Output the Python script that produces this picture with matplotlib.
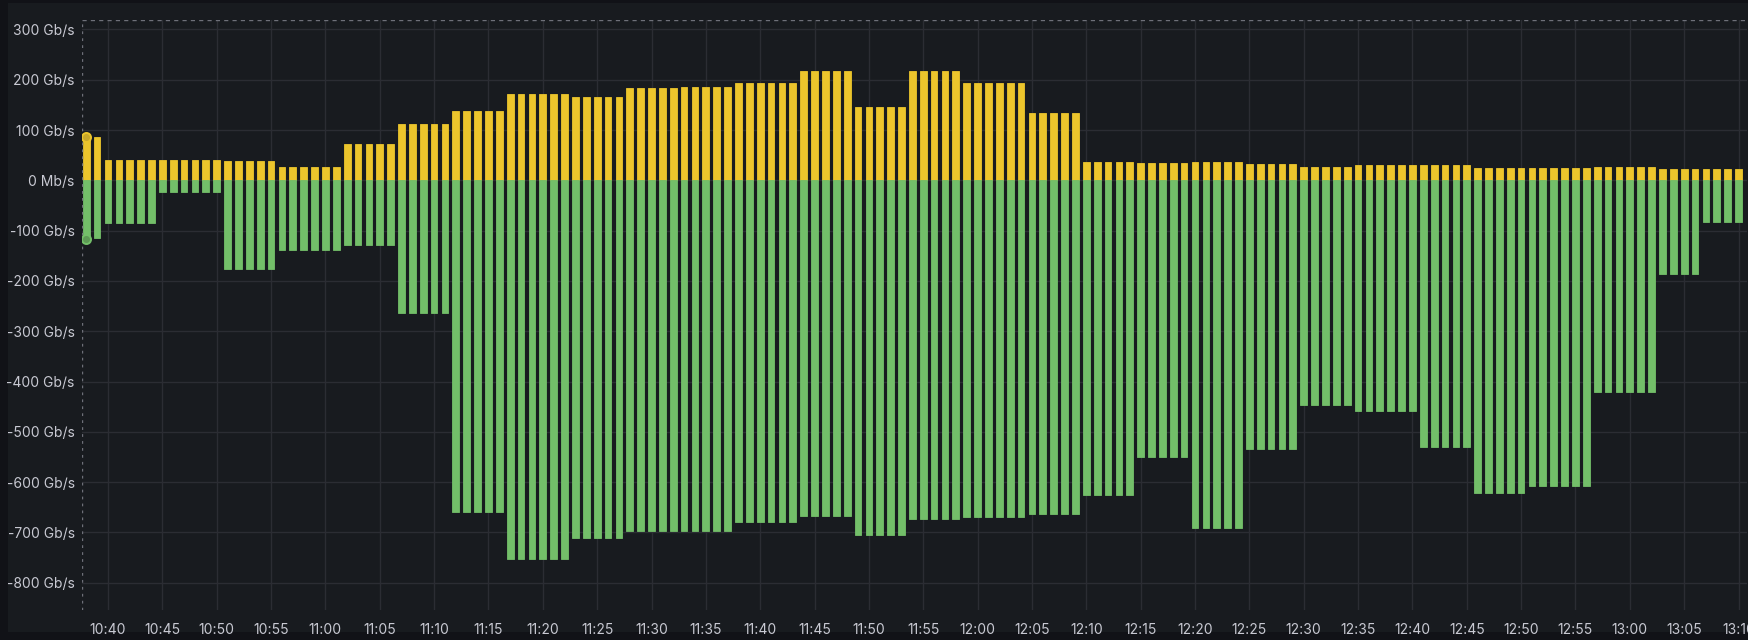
import matplotlib
matplotlib.use("Agg")
import matplotlib.pyplot as plt
import matplotlib.dates as mdates
from matplotlib.ticker import FuncFormatter, FixedLocator
from matplotlib.patches import Rectangle
import pandas as pd

plt.rcParams["font.family"] = ["Inter", "DejaVu Sans"]

# one sample per minute, 10:38 .. 13:10
times = pd.date_range("2024-01-01 10:38", "2024-01-01 13:10", freq="1min")

# inbound traffic (Gb/s), drawn upwards
rx_gbps = [
    86, 86,
    40, 40, 40, 40, 40, 40, 40, 40, 40, 40, 40,
    38, 38, 38, 38, 38,
    27, 27, 27, 27, 27, 27,
    72, 72, 72, 72, 72,
    111, 111, 111, 111, 111,
    138, 138, 138, 138, 138,
    172, 172, 172, 172, 172, 172,
    166, 166, 166, 166, 166,
    184, 184, 184, 184, 184,
    186, 186, 186, 186, 186,
    194, 194, 194, 194, 194, 194,
    217, 217, 217, 217, 217,
    146, 146, 146, 146, 146,
    217, 217, 217, 217, 217,
    194, 194, 194, 194, 194, 194,
    133, 133, 133, 133, 133,
    36, 36, 36, 36, 36,
    34, 34, 34, 34, 34,
    37, 37, 37, 37, 37,
    32, 32, 32, 32, 32,
    27, 27, 27, 27, 27,
    30, 30, 30, 30, 30, 30, 30, 30, 30, 30, 30,
    25, 25, 25, 25, 25, 25, 25, 25, 25, 25, 25,
    27, 27, 27, 27, 27, 27,
    22, 22, 22, 22, 22, 22, 22, 22,
]

# outbound traffic (Gb/s), drawn downwards
tx_gbps = [
    -117, -115,
    -84, -84, -84, -84, -84,
    -24, -24, -24, -24, -24, -24,
    -176, -176, -176, -176, -176,
    -138, -138, -138, -138, -138, -138,
    -128, -128, -128, -128, -128,
    -263, -263, -263, -263, -263,
    -659, -659, -659, -659, -659,
    -753, -753, -753, -753, -753, -753,
    -711, -711, -711, -711, -711,
    -697, -697, -697, -697, -697, -697, -697, -697, -697, -697,
    -680, -680, -680, -680, -680, -680,
    -667, -667, -667, -667, -667,
    -705, -705, -705, -705, -705,
    -673, -673, -673, -673, -673,
    -669, -669, -669, -669, -669, -669,
    -663, -663, -663, -663, -663,
    -625, -625, -625, -625, -625,
    -551, -551, -551, -551, -551,
    -691, -691, -691, -691, -691,
    -534, -534, -534, -534, -534,
    -446, -446, -446, -446, -446,
    -458, -458, -458, -458, -458, -458,
    -531, -531, -531, -531, -531,
    -621, -621, -621, -621, -621,
    -607, -607, -607, -607, -607, -607,
    -421, -421, -421, -421, -421, -421,
    -186, -186, -186, -186,
    -83, -83, -83, -83,
]

y_ticks = [-800, -700, -600, -500, -400, -300, -200, -100, 0, 100, 200, 300]

PAGE_BG = "#111217"
PANEL_BG = "#181b1f"
TEXT = "#c8c9d2"
GRID = "#2b2d33"
YELLOW = "#ecc52c"
GREEN = "#73bf69"

W, H = 1760, 640
fig = plt.figure(figsize=(W / 100, H / 100), dpi=100, facecolor=PAGE_BG)

# panel background
fig.patches.append(Rectangle((8 / W, 8 / H), (1748 - 8) / W, (637 - 8) / H,
                             transform=fig.transFigure, facecolor=PANEL_BG,
                             edgecolor="none", zorder=-10))

left, right, top, bottom = 81.7, 1747, 20, 610
ax = fig.add_axes([left / W, (H - bottom) / H, (right - left) / W, (bottom - top) / H])
ax.set_facecolor(PANEL_BG)

bar_w = 0.62 / 1440.0
x = mdates.date2num(times.to_pydatetime())
ax.bar(x, rx_gbps, width=bar_w, color=YELLOW, edgecolor=YELLOW, linewidth=0.6, zorder=3)
ax.bar(x, tx_gbps, width=bar_w, color=GREEN, edgecolor=GREEN, linewidth=0.6, zorder=3)

# hovered point markers on the first sample
ax.plot([x[0]], [rx_gbps[0]], "o", ms=6.5, mfc="#c9a82a", mec=YELLOW, mew=1.4, zorder=5)
ax.plot([x[0]], [tx_gbps[0]], "o", ms=6.5, mfc="#5d9a55", mec=GREEN, mew=1.4, zorder=5)

t0 = mdates.date2num(pd.Timestamp("2024-01-01 10:40").to_pydatetime())
per_min = 1 / 1440.0
px_per_min = 10.87
ax.set_xlim(t0 + (left - 108) / px_per_min * per_min, t0 + (right - 108) / px_per_min * per_min)
px_per_100 = 50.3
y0_px = 180.3
ax.set_ylim(-(bottom - y0_px) / px_per_100 * 100, (y0_px - top) / px_per_100 * 100)

ax.xaxis.set_major_locator(mdates.MinuteLocator(byminute=range(0, 60, 5)))
ax.xaxis.set_major_formatter(mdates.DateFormatter("%H:%M"))
ax.yaxis.set_major_locator(FixedLocator(y_ticks))
ax.yaxis.set_major_formatter(FuncFormatter(lambda v, p: "0 Mb/s" if v == 0 else f"{v:.0f} Gb/s"))

ax.grid(True, color=GRID, linewidth=1, zorder=0)
ax.set_axisbelow(True)
for s in ax.spines.values():
    s.set_visible(False)
ax.tick_params(axis="both", length=0, colors=TEXT, labelsize=10)
ax.tick_params(axis="y", pad=5)
ax.tick_params(axis="x", pad=9)

# crosshair
ax.axvline(ax.get_xlim()[0], color="#6e7079", lw=1, ls=(0, (2, 3)), zorder=4)
ax.axhline(ax.get_ylim()[1], color="#6e7079", lw=1, ls=(0, (3, 3)), zorder=4)

# page area beyond the panel's right edge
fig.patches.append(Rectangle((1748 / W, 0), (W - 1748) / W, 1, transform=fig.transFigure,
                             facecolor="white", edgecolor="none", zorder=100))

fig.savefig("out.png", dpi=100, facecolor=PAGE_BG)
